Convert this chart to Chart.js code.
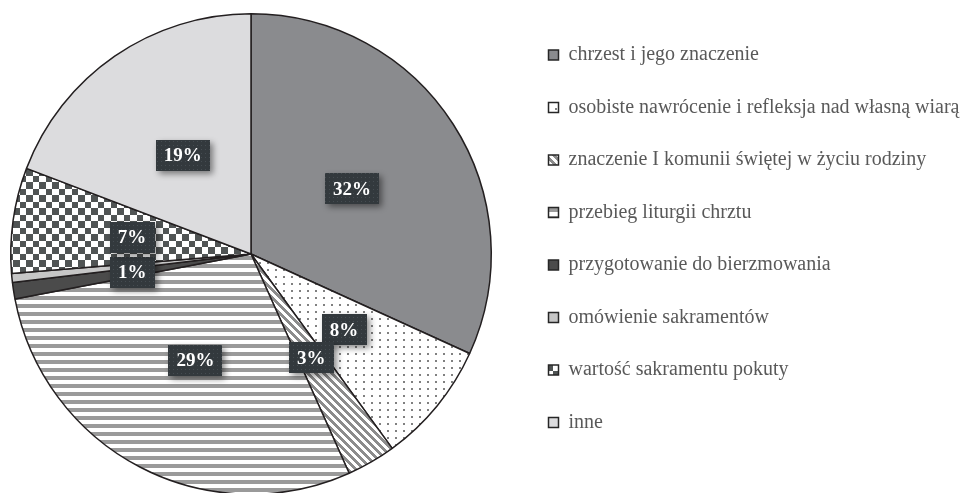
<!DOCTYPE html>
<html><head><meta charset="utf-8">
<script src="https://cdn.jsdelivr.net/npm/chart.js@4"></script>
<style>html,body{margin:0;padding:0;background:#fff;}canvas{display:block;}</style>
</head><body>
<canvas id="c" width="965" height="493"></canvas>
<script>
const categories = [
  'chrzest i jego znaczenie',
  'osobiste nawrócenie i refleksja nad własną wiarą',
  'znaczenie I komunii świętej w życiu rodziny',
  'przebieg liturgii chrztu',
  'przygotowanie do bierzmowania',
  'omówienie sakramentów',
  'wartość sakramentu pokuty',
  'inne'
];
const values = [31.8, 8.2, 3.3, 28.7, 1.1, 0.6, 7.1, 19.2];
const percentLabels = ['32%', '8%', '3%', '29%', '1%', '', '7%', '19%'];
const fillKinds = ['solid:#8a8b8e', 'dots', 'diag', 'horiz', 'solid:#4b4b4b', 'solid:#c6c6c6', 'checker', 'solid:#dcdcde'];

function tile(w, h, draw) {
  const c = document.createElement('canvas');
  c.width = w; c.height = h;
  const x = c.getContext('2d');
  draw(x);
  return document.getElementById('c').getContext('2d').createPattern(c, 'repeat');
}
function makeFill(kind) {
  if (kind.startsWith('solid:')) return kind.slice(6);
  if (kind === 'dots') return tile(8, 7, x => { x.fillStyle = '#fff'; x.fillRect(0,0,8,7); x.fillStyle = '#808080'; x.fillRect(3,3,2,2); });
  if (kind === 'diag') return tile(8, 8, x => { x.fillStyle = '#fff'; x.fillRect(0,0,8,8); x.fillStyle = '#8c8c8c'; for (let i=0;i<8;i++) for (let k=0;k<4;k++) x.fillRect(i, (i+k)%8, 1, 1); });
  if (kind === 'horiz') return tile(8, 8, x => { x.fillStyle = '#fff'; x.fillRect(0,0,8,8); x.fillStyle = '#9a9a9a'; x.fillRect(0,0,8,4); });
  if (kind === 'checker') return tile(13, 13, x => { x.fillStyle = '#fff'; x.fillRect(0,0,13,13); x.fillStyle = '#505454'; x.fillRect(0,0,7,7); x.fillRect(7,7,6,6); });
  return '#888';
}
const fills = fillKinds.map(makeFill);
const labelBg = tile(4, 4, x => { x.fillStyle = '#33393d'; x.fillRect(0,0,4,4); x.fillStyle = '#454c51'; x.fillRect(1,1,1,1); });

const fixLayout = {
  id: 'fixLayout',
  afterLayout(chart) {
    const ca = chart.chartArea;
    ca.left = 10; ca.right = 492; ca.top = 13; ca.bottom = 495;
    ca.width = ca.right - ca.left; ca.height = ca.bottom - ca.top;
    const lg = chart.legend;
    if (lg) { lg.left = 516; lg.right = 965; lg.top = 12.5; lg.bottom = 493; lg.width = lg.right - lg.left; lg.height = lg.bottom - lg.top; }
  }
};

const boxLabels = {
  id: 'boxLabels',
  afterDatasetsDraw(chart) {
    const ctx = chart.ctx;
    const meta = chart.getDatasetMeta(0);
    ctx.save();
    ctx.font = 'bold 19px "Liberation Serif"';
    ctx.textAlign = 'center';
    ctx.textBaseline = 'middle';
    meta.data.forEach((arc, i) => {
      const t = percentLabels[i];
      if (!t) return;
      const p = arc.tooltipPosition();
      const w = ctx.measureText(t).width + 16, h = 31;
      ctx.save();
      ctx.shadowColor = 'rgba(0,0,0,0.45)';
      ctx.shadowBlur = 6; ctx.shadowOffsetX = 3; ctx.shadowOffsetY = 3;
      ctx.fillStyle = labelBg;
      ctx.fillRect(Math.round(p.x - w/2), Math.round(p.y - h/2), Math.round(w), h);
      ctx.restore();
      ctx.fillStyle = '#ffffff';
      ctx.fillText(t, p.x, p.y + 1);
    });
    ctx.restore();
  }
};

new Chart(document.getElementById('c'), {
  type: 'pie',
  data: {
    labels: categories,
    datasets: [{
      data: values,
      backgroundColor: fills,
      borderColor: '#231f20',
      borderWidth: 1.5
    }]
  },
  options: {
    responsive: false,
    animation: false,
    devicePixelRatio: 1,
    layout: { padding: 0 },
    plugins: {
      tooltip: { enabled: false },
      legend: {
        position: 'right',
        align: 'start',
        labels: {
          boxWidth: 10,
          boxHeight: 10,
          padding: 32.5,
          color: '#595959',
          font: { family: '"Liberation Serif"', size: 20 },
          generateLabels: () => categories.map((t, i) => ({
            text: t, fillStyle: fills[i], strokeStyle: '#262626', lineWidth: 1.5,
            hidden: false, index: i, fontColor: '#595959'
          }))
        }
      }
    }
  },
  plugins: [fixLayout, boxLabels]
});
</script>
</body></html>
